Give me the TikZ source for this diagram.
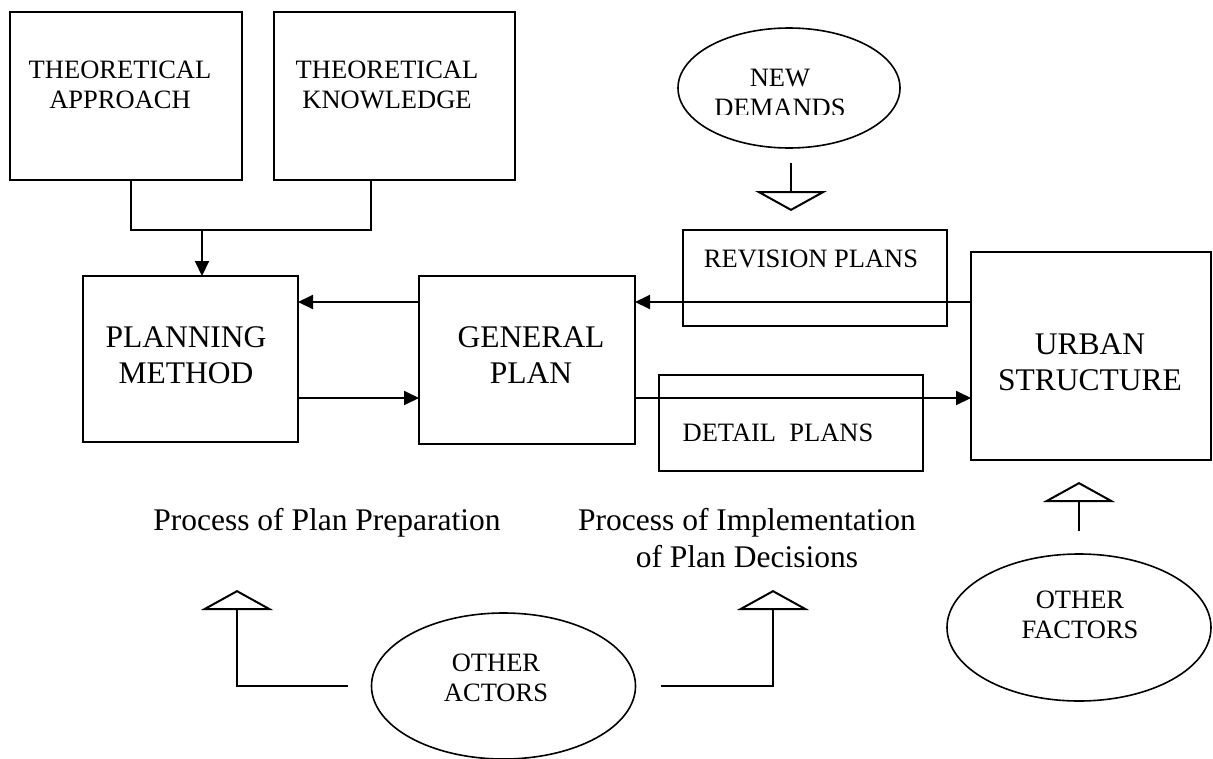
\documentclass[tikz,border=0pt]{standalone}
\usepackage{fontspec}
\setmainfont{Liberation Serif}
\usetikzlibrary{arrows.meta,shapes.geometric}
\newcommand\bigtxt{\fontsize{31.5}{36}\selectfont}
\newcommand\bigtxtwide{\fontsize{31.5}{37}\selectfont}
\newcommand\smalltxt{\fontsize{26.5}{30}\selectfont}
\begin{document}
\begin{tikzpicture}[x=1pt,y=-1pt,
  box/.style={draw, line width=2pt, rectangle, inner sep=0pt, outer sep=0pt},
  oval/.style={draw, line width=1.6pt, ellipse, inner sep=0pt, outer sep=0pt},
  lbl/.style={inner sep=0pt, outer sep=0pt, align=center},
  small/.style={lbl, font=\smalltxt},
  large/.style={lbl, font=\bigtxt},
  flow/.style={line width=2pt, -{Triangle[length=15pt,width=14pt]}},
  link/.style={line width=2pt},
  hollow/.style={line width=2pt, -{Triangle[open,length=20pt,width=72pt]}}
]
\useasboundingbox (0,0) rectangle (1213,758);

% boxes
\node[box, minimum width=232pt, minimum height=168pt] (ta)  at (126,96)    {};
\node[box, minimum width=241pt, minimum height=168pt] (tk)  at (394.5,96)  {};
\node[box, minimum width=215pt, minimum height=166pt] (pm)  at (190.5,359) {};
\node[box, minimum width=216pt, minimum height=168pt] (gp)  at (527,360)   {};
\node[box, minimum width=264pt, minimum height=96pt]  (rev) at (815,278)   {};
\node[box, minimum width=264pt, minimum height=96pt]  (det) at (791,423)   {};
\node[box, minimum width=240pt, minimum height=208pt] (us)  at (1091,356)  {};

% ellipses
\node[oval, minimum width=222pt, minimum height=120pt] (nd) at (789,88)      {};
\node[oval, minimum width=264pt, minimum height=146pt] (oa) at (503.5,686)   {};
\node[oval, minimum width=264pt, minimum height=147pt] (of) at (1079,627.5)  {};

% box labels
\node[small] (taT)  at (120,85)   {THEORETICAL\\APPROACH};
\node[small] (tkT)  at (387,85)   {THEORETICAL\\KNOWLEDGE};
\node[large] (pmT)  at (186,355)  {PLANNING\\METHOD};
\node[large] (gpT)  at (531,355)  {GENERAL\\PLAN};
\node[large] (usT)  at (1090,362) {URBAN\\STRUCTURE};
\node[small, anchor=base] (revT) at (811,267) {REVISION PLANS};
\node[small, anchor=base] (detT) at (778,441) {DETAIL\ \ PLANS};

% ellipse labels (the text frame cuts the second line short)
\begin{scope}
  \clip (670,20) rectangle (905,114.5);
  \node[small] (ndT) at (780,93.25) {NEW\\DEMANDS};
\end{scope}
\node[small] (oaT) at (496,677.5) {OTHER\\ACTORS};
\node[small] (ofT) at (1080,615)  {OTHER\\FACTORS};

% process captions
\node[large, anchor=base] (ppT) at (327,530) {Process of Plan Preparation};
\node[lbl, font=\bigtxtwide] (piT) at (747,537.75) {Process of Implementation\\of Plan Decisions};

% theory inputs merging into the planning method
\coordinate (join) at (202,230);
\draw[link] ([xshift=5pt]ta.south) |- (join) -| ([xshift=-23.5pt]tk.south);
\draw[flow] (join) -- (join |- pm.north);

% main flows
\coordinate (upY) at (0,302);
\coordinate (loY) at (0,398);
\draw[flow] (us.west |- upY) -- (gp.east |- upY);
\draw[flow] (gp.west |- upY) -- (pm.east |- upY);
\draw[flow] (pm.east |- loY) -- (gp.west |- loY);
\draw[flow] (gp.east |- loY) -- (us.west |- loY);

% external influences
\coordinate (ndA) at (791,163);
\coordinate (ndB) at (791,211);
\draw[hollow] (ndA) -- (ndB);

\coordinate (oaL) at (348,686);
\coordinate (ppTip) at (237,590);
\draw[hollow] (oaL) -| (ppTip);

\coordinate (oaR) at (661,686);
\coordinate (piTip) at (773,590);
\draw[hollow] (oaR) -| (piTip);

\coordinate (ofA) at (1079,531);
\coordinate (ofTip) at (1079,482);
\draw[hollow] (ofA) -- (ofTip);
\end{tikzpicture}
\end{document}
